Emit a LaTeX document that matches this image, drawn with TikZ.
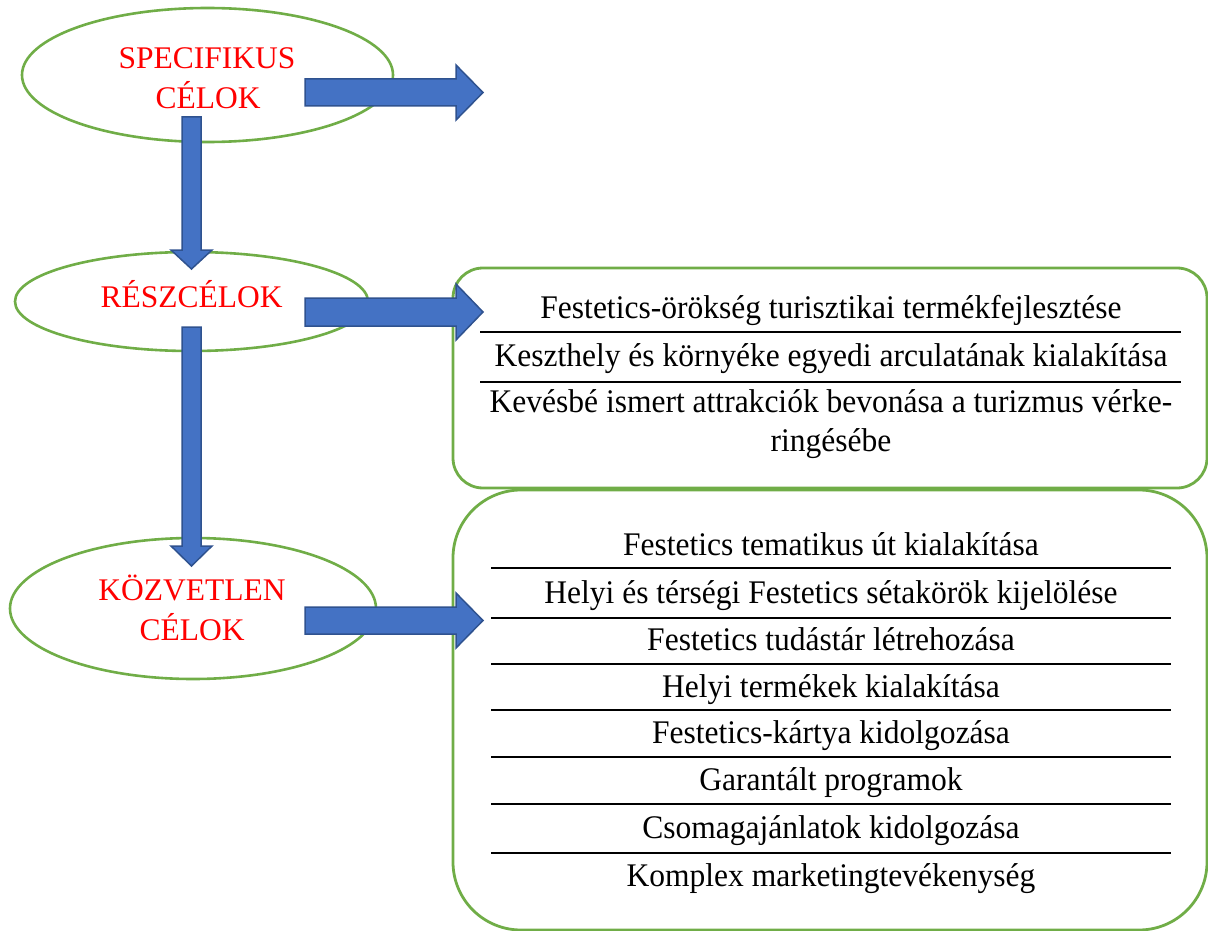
\documentclass[tikz,border=0pt]{standalone}
\usepackage{fontspec}
\setmainfont{Liberation Serif}
\newfontfamily\itemfont[FakeStretch=0.955]{Liberation Serif}
\usetikzlibrary{shapes.geometric}
\definecolor{grn}{HTML}{70AD47}
\definecolor{blu}{HTML}{4472C4}
\definecolor{bluedge}{HTML}{2F528F}
\begin{document}
\begin{tikzpicture}[x=1pt,y=-1pt,
  ell/.style={ellipse, draw=grn, line width=2.6pt, inner sep=0pt},
  roundbox/.style={draw=grn, line width=2.8pt, inner sep=0pt},
  redlab/.style={text=red, font=\fontsize{31.5}{38}\selectfont, anchor=base, inner sep=0pt},
  itemtxt/.style={font=\itemfont\fontsize{33}{38}\selectfont, anchor=base, inner sep=0pt},
  sepline/.style={line width=2.2pt, black},
  blockarrow/.style={fill=blu, draw=bluedge, line width=1.5pt, line join=miter}]
\useasboundingbox (0,0) rectangle (1208,931);
% ellipses
\node[ell, minimum width=371, minimum height=134] (e1) at (207.5,75) {};
\node[ell, minimum width=353, minimum height=99] (e2) at (191.5,301.5) {};
\node[ell, minimum width=366, minimum height=141] (e3) at (193,608.5) {};
\node[redlab] (e1a) at (207,69) {SPECIFIKUS};
\node[redlab] (e1b) at (208,109) {CÉLOK};
\node[redlab] (e2a) at (191.5,307) {RÉSZCÉLOK};
\node[redlab] (e3a) at (192,600) {KÖZVETLEN};
\node[redlab] (e3b) at (192,640) {CÉLOK};
% boxes
\node[roundbox, rounded corners=30, minimum width=754, minimum height=220] (b1) at (830,378) {};
\node[roundbox, rounded corners=68, minimum width=754, minimum height=440] (b2) at (830,710) {};
% box 1 content
\node[itemtxt] (t11) at (831,318) {Festetics-örökség turisztikai termékfejlesztése};
\node[itemtxt] (t12) at (831,366) {Keszthely és környéke egyedi arculatának kialakítása};
\node[itemtxt] (t13) at (831,412) {Kevésbé ismert attrakciók bevonása a turizmus vérke-};
\node[itemtxt] (t14) at (831,451) {ringésébe};
\draw[sepline] (480,332) -- (1181,332);
\draw[sepline] (480,382) -- (1181,382);
% box 2 content
\node[itemtxt] (u1) at (831,555) {Festetics tematikus út kialakítása};
\node[itemtxt] (u2) at (831,603) {Helyi és térségi Festetics sétakörök kijelölése};
\node[itemtxt] (u3) at (831,650) {Festetics tudástár létrehozása};
\node[itemtxt] (u4) at (831,697) {Helyi termékek kialakítása};
\node[itemtxt] (u5) at (831,743) {Festetics-kártya kidolgozása};
\node[itemtxt] (u6) at (831,790) {Garantált programok};
\node[itemtxt] (u7) at (831,838) {Csomagajánlatok kidolgozása};
\node[itemtxt] (u8) at (831,886) {Komplex marketingtevékenység};
\foreach \yy in {568,618,664,710,757,804,853}
  \draw[sepline] (491,\yy) -- (1171,\yy);
% horizontal block arrows
\draw[blockarrow] (305,79) -- (456,79) -- (456,65) -- (483,92.5) -- (456,120) -- (456,106) -- (305,106) -- cycle;
\draw[blockarrow] (305,298) -- (456,298) -- (456,284) -- (483,312) -- (456,340) -- (456,326) -- (305,326) -- cycle;
\draw[blockarrow] (305,607) -- (456,607) -- (456,593) -- (483,620.5) -- (456,648) -- (456,634) -- (305,634) -- cycle;
% vertical block arrows
\draw[blockarrow] (182,117) -- (201,117) -- (201,250) -- (212,250) -- (191.5,269) -- (171,250) -- (182,250) -- cycle;
\draw[blockarrow] (182,327) -- (201,327) -- (201,546) -- (212,546) -- (191.5,566) -- (171,546) -- (182,546) -- cycle;
\end{tikzpicture}
\end{document}
